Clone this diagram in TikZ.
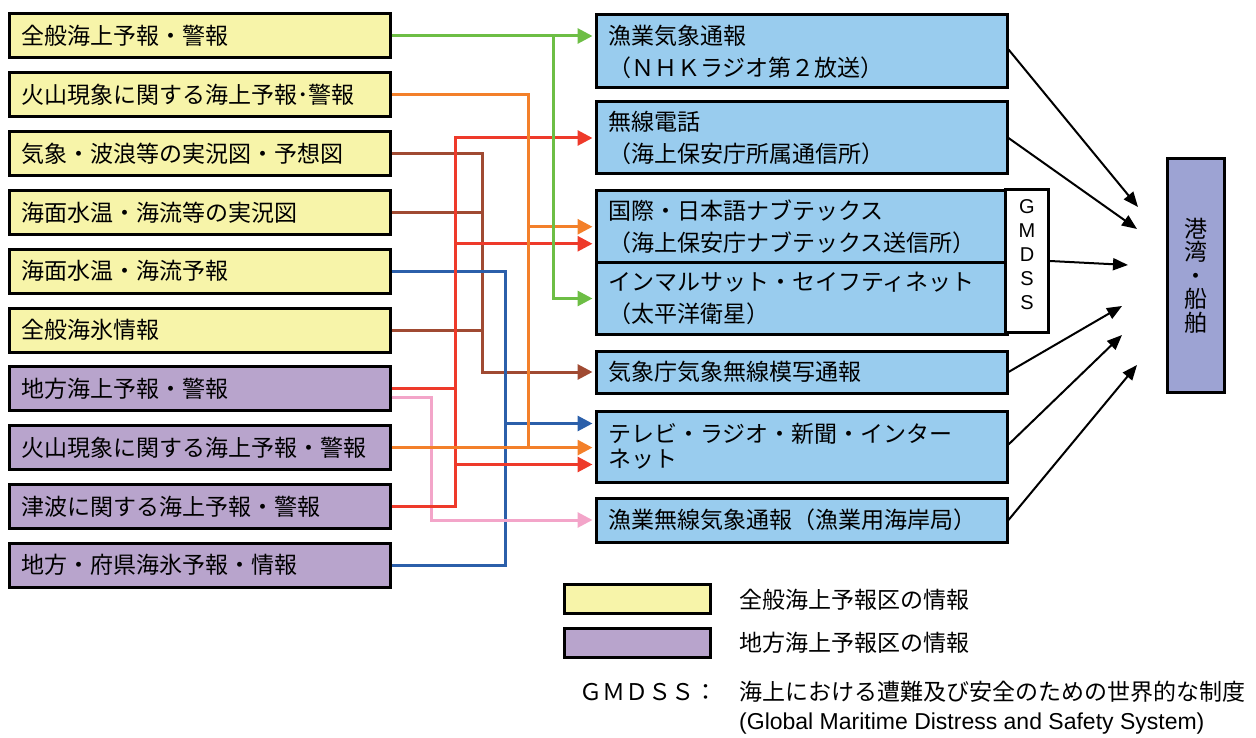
\documentclass[tikz,border=0pt]{standalone}
\usepackage{fontspec}
\setmainfont{Noto Sans CJK JP}
\newfontfamily\latinfont{Liberation Sans}
\usetikzlibrary{arrows.meta}
\definecolor{cyel}{HTML}{F7F4A9}
\definecolor{cpur}{HTML}{B8A4CC}
\definecolor{cblu}{HTML}{99CCEE}
\definecolor{cport}{HTML}{9DA3D3}
\definecolor{cgreen}{HTML}{6DBE45}
\definecolor{corange}{HTML}{F3802A}
\definecolor{cred}{HTML}{EE3A2A}
\definecolor{cbrown}{HTML}{A04A32}
\definecolor{cblue}{HTML}{2B5FAA}
\definecolor{cpink}{HTML}{F3A5C9}
\tikzset{
  boxbase/.style={draw=black, line width=3pt, rectangle, inner xsep=12pt, inner ysep=0pt,
    align=left, font=\fontsize{23}{32}\selectfont, anchor=north west},
  lbox/.style={boxbase, minimum width=381pt, minimum height=44pt, text width=357pt},
  ybox/.style={lbox, fill=cyel},
  pbox/.style={lbox, fill=cpur},
  mbox/.style={boxbase, fill=cblu, minimum width=411pt, text width=387pt},
  cline/.style={line width=3pt},
  arr/.style={-{Triangle[length=15pt,width=15pt]}, shorten >=2pt},
  barrow/.style={line width=2pt, -{Triangle[length=15pt,width=12pt]}},
  legtext/.style={inner sep=0pt, anchor=west, font=\fontsize{23}{28}\selectfont}
}
\begin{document}
\begin{tikzpicture}[x=1pt,y=-1pt]
\useasboundingbox (0,0) rectangle (1256,738);
% left boxes
\node[ybox] (L1) at (7.5,12.5) {全般海上予報・警報};
\node[ybox] (L2) at (7.5,71.3) {火山現象に関する海上予報･警報};
\node[ybox] (L3) at (7.5,130.1) {気象・波浪等の実況図・予想図};
\node[ybox] (L4) at (7.5,188.9) {海面水温・海流等の実況図};
\node[ybox] (L5) at (7.5,247.7) {海面水温・海流予報};
\node[ybox] (L6) at (7.5,306.5) {全般海氷情報};
\node[pbox] (L7) at (7.5,365.3) {地方海上予報・警報};
\node[pbox] (L8) at (7.5,424.1) {火山現象に関する海上予報・警報};
\node[pbox] (L9) at (7.5,482.9) {津波に関する海上予報・警報};
\node[pbox] (L10) at (7.5,541.7) {地方・府県海氷予報・情報};
% middle boxes
\node[mbox, minimum height=73pt] (A) at (594.5,13.5) {漁業気象通報\\（ＮＨＫラジオ第２放送）};
\node[mbox, minimum height=72pt] (B) at (594.5,100.5) {無線電話\\（海上保安庁所属通信所）};
\node[mbox, minimum height=71.5pt] (C) at (594.5,189.5) {国際・日本語ナブテックス\\（海上保安庁ナブテックス送信所）};
\node[mbox, minimum height=72pt] (D) at (594.5,261) {インマルサット・セイフティネット\\（太平洋衛星）};
\node[mbox, minimum height=42pt] (E) at (594.5,349.5) {気象庁気象無線模写通報};
\node[mbox, minimum height=71pt, font=\fontsize{23}{25}\selectfont] (F) at (594.5,409.5) {テレビ・ラジオ・新聞・インター\\ネット};
\node[mbox, minimum height=44pt] (G) at (594.5,496.5) {漁業無線気象通報（漁業用海岸局）};
% GMDSS box
\node[draw=black, line width=3pt, fill=white, minimum width=43pt, minimum height=143pt, inner sep=0pt] (gm) at (1027,261) {};
\node[inner sep=0pt, align=center, font=\latinfont\fontsize{20}{24}\selectfont] (gmt) at (1027,254.5) {G\\M\\D\\S\\S};
% port box
\node[draw=black, line width=3pt, fill=cport, minimum width=57pt, minimum height=234pt, inner sep=0pt,
  align=center, font=\fontsize{23}{23.5}\selectfont] (port) at (1196,275.5) {港\\湾\\・\\船\\舶};
% trunk coordinates
\coordinate (gx) at (553,0);
\coordinate (ox) at (528,0);
\coordinate (rx) at (455,0);
\coordinate (bx) at (482,0);
\coordinate (blx) at (505,0);
\coordinate (px) at (431,0);
\coordinate (cR) at ([yshift=-17pt]C.west);
\coordinate (fB) at ([yshift=23pt]F.west);
\coordinate (fR) at ([yshift=-18pt]F.west);
\coordinate (L7p) at ([yshift=-9pt]L7.east);
% brown
\draw[cline, cbrown, arr] (L3.east) -| (bx |- E.west) -- (E.west);
\draw[cline, cbrown] (L4.east) -- (bx |- L4.east);
\draw[cline, cbrown] (L6.east) -- (bx |- L6.east);
% blue
\draw[cline, cblue] (L5.east) -| (blx |- L10.east) -- (L10.east);
\draw[cline, cblue, arr] (blx |- fB) -- (fB);
% pink
\draw[cline, cpink, arr] (L7p) -| (px |- G.west) -- (G.west);
% red
\draw[cline, cred] (L7.east) -- (rx |- L7.east);
\draw[cline, cred, arr] (L9.east) -| (rx |- B.west) -- (B.west);
\draw[cline, cred, arr] (rx |- cR) -- (cR);
\draw[cline, cred, arr] (rx |- fR) -- (fR);
% orange
\draw[cline, corange] (L2.east) -| (ox |- L8.east);
\draw[cline, corange, arr] (L8.east) -- (F.west |- L8.east);
\draw[cline, corange, arr] (ox |- C.west) -- (C.west);
% green
\draw[cline, cgreen, arr] (L1.east) -- (A.west |- L1.east);
\draw[cline, cgreen, arr] (gx |- L1.east) -- (gx |- D.west) -- (D.west);
% black arrows
\coordinate (t1) at (1138,207);
\coordinate (t2) at (1137,229);
\coordinate (t3) at (1128,265);
\coordinate (t4) at (1122,306);
\coordinate (t5) at (1122,335);
\coordinate (t6) at (1137,365);
\draw[barrow] ([yshift=2pt]A.east) -- (t1);
\draw[barrow] (B.east) -- (t2);
\draw[barrow] (gm.east) -- (t3);
\draw[barrow] (E.east) -- (t4);
\draw[barrow] ([yshift=2pt]F.east) -- (t5);
\draw[barrow] (G.east) -- (t6);
% legend
\node[draw=black, line width=3pt, fill=cyel, minimum width=146pt, minimum height=29pt, inner sep=0pt] (leg1) at (637.5,599) {};
\node[draw=black, line width=3pt, fill=cpur, minimum width=146pt, minimum height=29pt, inner sep=0pt] (leg2) at (637.5,642.5) {};
\node[legtext] (leg1t) at (739,600) {全般海上予報区の情報};
\node[legtext] (leg2t) at (739,643) {地方海上予報区の情報};
\node[legtext] (gmk) at (579,692) {ＧＭＤＳＳ：};
\node[legtext] (gmd) at (739,692) {海上における遭難及び安全のための世界的な制度};
\node[legtext, font=\latinfont\fontsize{23}{28}\selectfont] (gme) at (739,724) {(Global Maritime Distress and Safety System)};
\end{tikzpicture}
\end{document}
